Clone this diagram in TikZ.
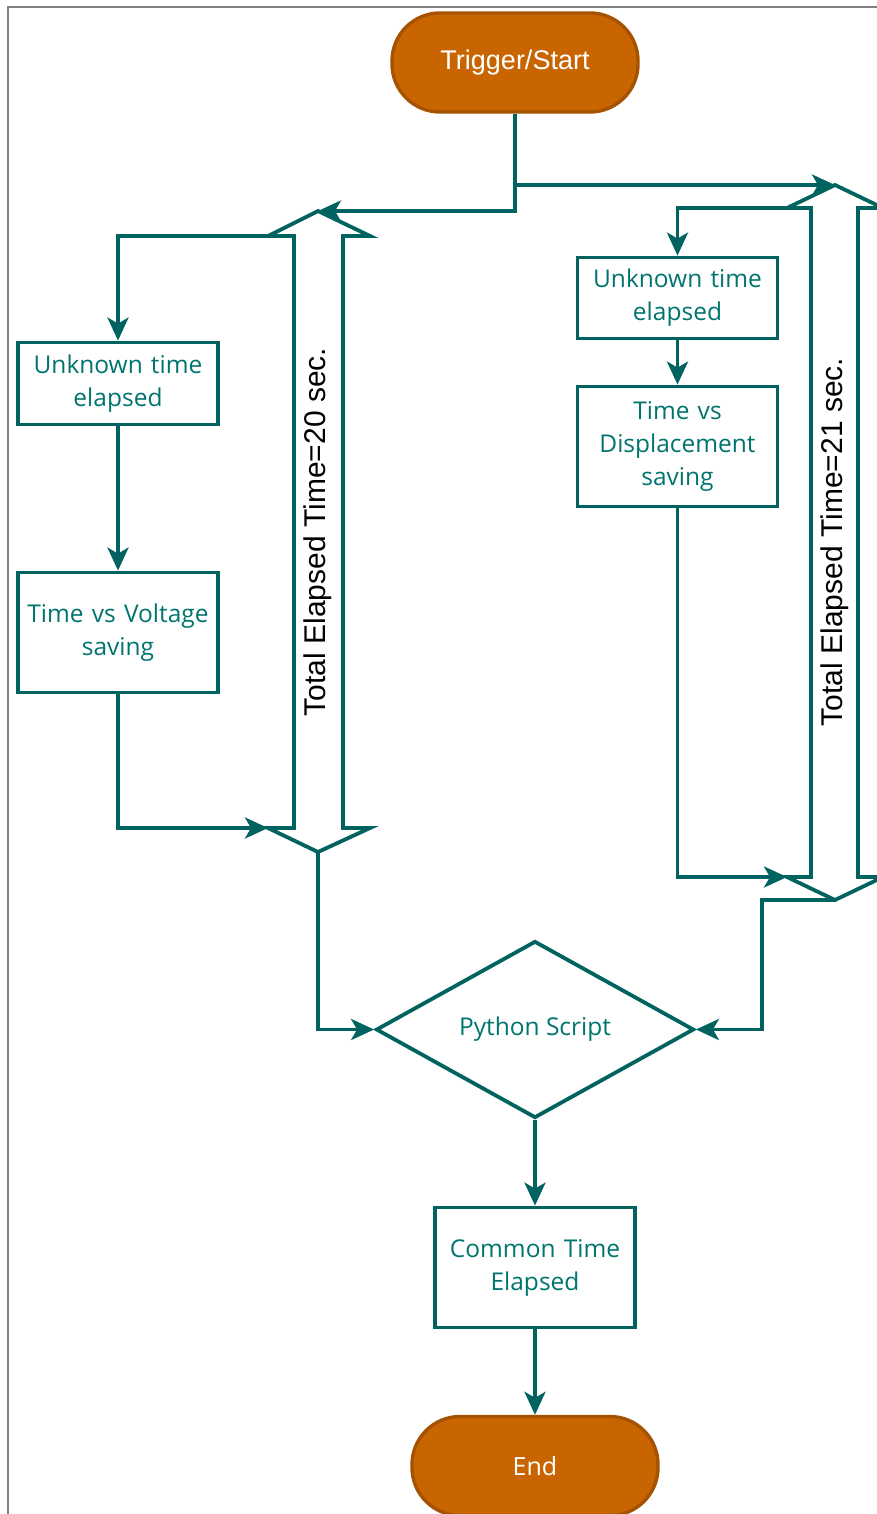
\documentclass[tikz,border=0pt]{standalone}
\usepackage{fontspec}
\setmainfont{Open Sans}
\newfontfamily\labelfont{Liberation Sans}
\usetikzlibrary{arrows.meta,shapes.geometric}
\definecolor{teal}{HTML}{00635F}
\definecolor{tealtext}{HTML}{007570}
\definecolor{termfill}{HTML}{C96500}
\definecolor{termedge}{HTML}{A55300}
\definecolor{framegray}{HTML}{808080}
\begin{document}
\begin{tikzpicture}[x=1pt,y=-1pt,
  flow/.style={draw=teal,line width=3.8pt,-{Stealth[length=23pt,width=21pt,inset=6pt]}},
  procbox/.style={draw=teal,line width=3.8pt,fill=white,minimum width=200pt,
    text width=196pt,align=center,text=tealtext,font=\fontsize{24.5}{33}\selectfont,inner sep=0pt},
  terminal/.style={draw=termedge,line width=3.4pt,fill=termfill,rounded corners=48pt,
    minimum width=246pt,minimum height=99pt,text=white,inner sep=0pt},
  decision/.style={diamond,draw=teal,line width=3.8pt,fill=white,aspect=1.8,
    minimum width=318pt,minimum height=177pt,text=tealtext,inner sep=0pt,
    font=\fontsize{24.5}{28}\selectfont},
  spanarrow/.style={draw=teal,line width=3.8pt,fill=white,line join=miter},
  spanlabel/.style={rotate=90,font=\labelfont\fontsize{30}{33}\selectfont,text=black}]
\useasboundingbox (0,0) rectangle (877,1514);

% page frame
\draw[framegray,line width=1.5pt] (8,1514) -- (8,7) -- (877,7);

% terminals
\node[terminal,font=\labelfont\fontsize{27}{30}\selectfont] (start) at (515,62.5) {\raisebox{-2pt}{Trigger/Start}};
\node[terminal,font=\fontsize{25}{28}\selectfont] (end) at (535,1466) {End};

% left span arrow (20 s)
\coordinate (ltip) at (318,211);
\coordinate (lhl) at (268,236);
\coordinate (lbl) at (268,828);
\coordinate (lbot) at (318,852);
\draw[spanarrow] (ltip) -- (370,236) -- (343,236) -- (343,828) -- (370,828) -- (lbot)
  -- (lbl) -- (294,828) -- (294,236) -- (lhl) -- cycle;
\node[spanlabel] (ltext) at (318,532) {Total Elapsed Time=20 sec.};

% right span arrow (21 s)
\coordinate (rtip) at (835,185);
\coordinate (rhl) at (787,208);
\coordinate (rbl) at (787,877);
\coordinate (rbot) at (835,900);
\coordinate (rjog) at (762,900);
\draw[spanarrow] (rtip) -- (883,208) -- (858,208) -- (858,877) -- (883,877) -- (rbot)
  -- (rbl) -- (811,877) -- (811,208) -- (rhl) -- cycle;
\node[spanlabel] (rtext) at (835,542) {Total Elapsed Time=21 sec.};

% process boxes
\node[procbox,minimum height=82pt] (u1) at (118,383.5) {Unknown time\\elapsed};
\node[procbox,minimum height=120pt] (volt) at (118,632.5) {Time vs Voltage\\saving};
\node[procbox,minimum height=81pt] (u2) at (677.5,298) {Unknown time\\elapsed};
\node[procbox,minimum height=120pt] (disp) at (677.5,446.5) {Time vs\\Displacement\\saving};
\node[decision] (py) at (535,1029.5) {Python Script};
\node[procbox,minimum height=120pt] (common) at (535,1267.5) {Common Time\\Elapsed};

% connectors
\draw[flow] (start.south) |- (ltip);
\draw[flow] (start.south) |- (rtip);
\draw[flow] (lhl) -| (u1.north);
\draw[flow] (u1.south) -- (volt.north);
\draw[flow] (volt.south) |- (lbl);
\draw[flow] (lbot) |- (py.west);
\draw[flow] (rhl) -| (u2.north);
\draw[flow] (u2.south) -- (disp.north);
\draw[flow] (disp.south) |- (rbl);
\draw[flow] (rbot) -- (rjog) |- (py.east);
\draw[flow] (py.south) -- (common.north);
\draw[flow] (common.south) -- (end.north);
\end{tikzpicture}
\end{document}
